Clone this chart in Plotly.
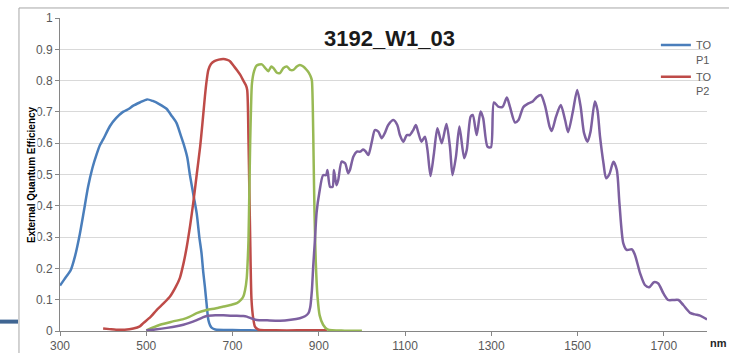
import plotly.graph_objects as go

# --- spectral response data (wavelength in nm, external quantum efficiency) ---
top1_nm = [300, 310, 325, 335, 346, 355, 365, 375, 385, 393, 400, 416, 430, 446, 460, 470, 485,
           502, 515, 530, 547, 560, 570, 580, 586, 595, 601, 610, 617, 623, 628, 632, 636, 640,
           644, 648, 652, 660, 700, 740, 770]
top1_eqe = [0.145, 0.165, 0.195, 0.24, 0.31, 0.38, 0.46, 0.52, 0.565, 0.595, 0.612, 0.655, 0.68,
            0.70, 0.71, 0.72, 0.73, 0.74, 0.735, 0.725, 0.71, 0.685, 0.665, 0.625, 0.60, 0.555,
            0.50, 0.43, 0.375, 0.30, 0.25, 0.19, 0.14, 0.085, 0.035, 0.018, 0.01, 0.005, 0.003,
            0.002, 0.001]

top2_nm = [400, 415, 430, 450, 470, 485, 493, 510, 524, 540, 555, 568, 578, 587, 594, 602, 609,
           617, 625, 630, 636, 640, 644, 650, 658, 668, 679, 688, 694, 702, 710, 718, 725, 731,
           734, 737, 739, 741, 744, 748, 752, 758, 764, 800, 850, 920]
top2_eqe = [0.008, 0.006, 0.004, 0.004, 0.008, 0.015, 0.025, 0.045, 0.067, 0.088, 0.11, 0.14,
            0.17, 0.22, 0.27, 0.34, 0.41, 0.50, 0.59, 0.66, 0.75, 0.80, 0.834, 0.853, 0.862,
            0.867, 0.869, 0.866, 0.862, 0.848, 0.834, 0.818, 0.80, 0.785, 0.77, 0.61, 0.45, 0.29,
            0.10, 0.04, 0.014, 0.006, 0.003, 0.002, 0.002, 0.002]

top3_nm = [500, 532, 560, 586, 600, 617, 640, 660, 679, 695, 710, 720, 725, 729, 733, 735, 737,
           739, 741, 743, 745, 750, 756, 768, 776, 783, 790, 795, 803, 810, 818, 826, 834, 841,
           849, 856, 864, 872, 877, 882, 884, 886, 888, 890, 893, 897, 902, 910, 920, 960, 1000]
top3_eqe = [0.002, 0.02, 0.03, 0.038, 0.045, 0.057, 0.067, 0.072, 0.078, 0.083, 0.089, 0.10,
            0.11, 0.13, 0.17, 0.22, 0.29, 0.45, 0.61, 0.72, 0.79, 0.83, 0.848, 0.852, 0.84,
            0.83, 0.845, 0.84, 0.825, 0.824, 0.84, 0.845, 0.834, 0.834, 0.845, 0.85, 0.845,
            0.834, 0.825, 0.81, 0.80, 0.72, 0.55, 0.38, 0.22, 0.11, 0.05, 0.02, 0.005, 0.001,
            0.001]

top4_nm = [500, 520, 548, 570, 586, 600, 617, 630, 640, 660, 679, 695, 710, 725, 733, 745, 756,
           780, 810, 835, 856, 868, 876, 880, 884, 887, 891, 895, 901, 910, 917, 920, 926, 932,
           935, 941, 945, 953, 961, 968, 972, 980, 988, 996, 1003, 1009, 1015, 1023, 1030, 1038,
           1046, 1053, 1061, 1073, 1082, 1088, 1096, 1104, 1111, 1119, 1125, 1131, 1138, 1146,
           1152, 1159, 1167, 1175, 1185, 1196, 1204, 1210, 1218, 1226, 1237, 1243, 1252, 1257,
           1266, 1275, 1281, 1291, 1299, 1306, 1316, 1326, 1336, 1343, 1355, 1363, 1374, 1386,
           1396, 1405, 1415, 1425, 1435, 1440, 1450, 1461, 1471, 1478, 1489, 1499, 1507, 1515,
           1523, 1530, 1540, 1546, 1552, 1560, 1566, 1574, 1583, 1591, 1597, 1606, 1614, 1626,
           1633, 1645, 1656, 1666, 1677, 1687, 1699, 1710, 1722, 1734, 1745, 1761, 1772, 1784,
           1800]
top4_eqe = [0.002, 0.005, 0.01, 0.015, 0.02, 0.026, 0.035, 0.043, 0.048, 0.05, 0.05, 0.049,
            0.049, 0.048, 0.046, 0.04, 0.035, 0.034, 0.033, 0.036, 0.041, 0.047, 0.057, 0.075,
            0.13, 0.205, 0.29, 0.38, 0.44, 0.498, 0.498, 0.514, 0.461, 0.461, 0.514, 0.466,
            0.482, 0.541, 0.536, 0.504, 0.514, 0.557, 0.573, 0.573, 0.58, 0.573, 0.562, 0.605,
            0.642, 0.637, 0.616, 0.632, 0.658, 0.674, 0.658, 0.626, 0.605, 0.626, 0.626, 0.642,
            0.658, 0.632, 0.605, 0.621, 0.578, 0.495, 0.568, 0.648, 0.60, 0.661, 0.589, 0.498,
            0.557, 0.653, 0.552, 0.578, 0.685, 0.69, 0.626, 0.701, 0.68, 0.589, 0.587, 0.73,
            0.717, 0.716, 0.746, 0.717, 0.666, 0.674, 0.715, 0.727, 0.733, 0.747, 0.754, 0.717,
            0.653, 0.639, 0.685, 0.722, 0.674, 0.635, 0.701, 0.77, 0.717, 0.632, 0.605, 0.637,
            0.733, 0.706, 0.621, 0.536, 0.488, 0.502, 0.541, 0.514, 0.408, 0.28, 0.259, 0.261,
            0.243, 0.184, 0.147, 0.14, 0.156, 0.152, 0.12, 0.099, 0.099, 0.099, 0.083, 0.058,
            0.053, 0.049, 0.037]

x_ticks = [300, 500, 700, 900, 1100, 1300, 1500, 1700]
title_text = "3192_W1_03"
y_title = "External Quantum Efficiency"
x_unit = "nm"

series = [
    ("TO<br>P1", top1_nm, top1_eqe, "#4A7EBB", True),
    ("TO<br>P2", top2_nm, top2_eqe, "#BE4B48", True),
    ("TOP3", top3_nm, top3_eqe, "#98B954", False),
    ("TOP4", top4_nm, top4_eqe, "#7D60A0", False),
]

fig = go.Figure()
for name, xs, ys, color, in_legend in series:
    fig.add_trace(go.Scatter(
        x=xs, y=ys, name=name, mode="lines", showlegend=in_legend,
        line=dict(color=color, width=2.5, shape="spline", smoothing=0.7),
    ))

tick_font = dict(family="Liberation Sans, Arial, sans-serif", size=12, color="#595959")

fig.update_layout(
    width=729, height=353,
    margin=dict(l=60, r=22, t=18, b=22, autoexpand=False),
    paper_bgcolor="white", plot_bgcolor="white",
    showlegend=True,
    legend=dict(
        x=0.921, y=0.957, xanchor="left", yanchor="top",
        bgcolor="rgba(0,0,0,0)", valign="top",
        font=dict(family="Liberation Sans, Arial, sans-serif", size=11, color="#595959"),
        itemwidth=30, tracegroupgap=0,
    ),
    xaxis=dict(
        range=[300, 1800], tickvals=x_ticks, ticktext=[str(v) for v in x_ticks],
        ticks="outside", ticklen=4, tickcolor="#868686",
        showline=True, linecolor="#868686", linewidth=1,
        showgrid=False, zeroline=False, tickfont=tick_font, automargin=False,
    ),
    yaxis=dict(
        range=[0, 1], dtick=0.1, tick0=0,
        ticks="outside", ticklen=4, tickcolor="#868686",
        showline=True, linecolor="#868686", linewidth=1,
        showgrid=True, gridcolor="#D9D9D9", gridwidth=1,
        zeroline=False, tickfont=tick_font, automargin=False,
    ),
    annotations=[
        dict(text="<b>%s</b>" % title_text, xref="paper", yref="paper",
             x=0.51, y=0.935, xanchor="center", yanchor="middle", showarrow=False,
             font=dict(family="Liberation Sans, Arial, sans-serif", size=22, color="#1A1A1A")),
        dict(text="<b>%s</b>" % y_title, xref="paper", yref="paper",
             x=-0.044, y=0.5, xanchor="center", yanchor="middle", showarrow=False,
             textangle=-90, bgcolor="white", borderpad=0,
             font=dict(family="Liberation Sans, Arial, sans-serif", size=10, color="#000000")),
        dict(text="<b>%s</b>" % x_unit, xref="paper", yref="paper",
             x=1.002, y=-0.038, xanchor="left", yanchor="middle", showarrow=False,
             font=dict(family="Liberation Sans, Arial, sans-serif", size=11, color="#262626")),
    ],
    shapes=[
        # chart frame (top and left edges)
        dict(type="line", xref="paper", yref="paper", x0=-0.0634, x1=1.04, y0=1.032, y1=1.032,
             line=dict(color="#A6A6A6", width=1)),
        dict(type="line", xref="paper", yref="paper", x0=-0.0634, x1=-0.0634, y0=1.032, y1=-0.08,
             line=dict(color="#A6A6A6", width=1)),
        # slide accent bar at the left edge
        dict(type="line", xref="paper", yref="paper", x0=-0.1, x1=-0.0649, y0=0.03, y1=0.03,
             line=dict(color="#3F6592", width=4)),
    ],
)

fig.write_html("out.html")
